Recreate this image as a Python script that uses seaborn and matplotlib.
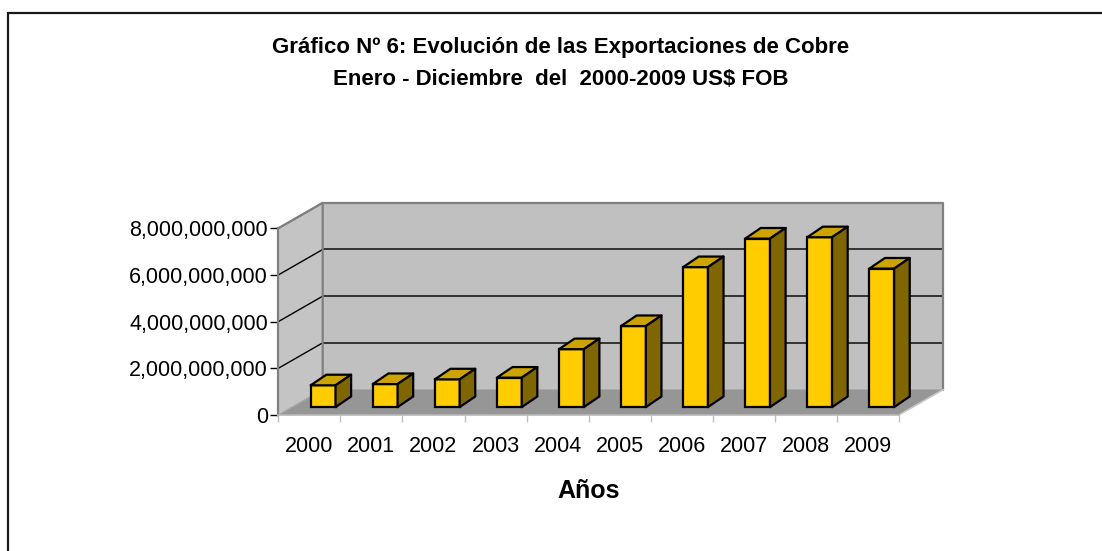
import numpy as np
import pandas as pd
import matplotlib
matplotlib.use("Agg")
import matplotlib.pyplot as plt
from matplotlib.patches import Polygon, Rectangle
from matplotlib.ticker import StrMethodFormatter
import seaborn as sns

# ---------------- data ----------------
years = ["2000", "2001", "2002", "2003", "2004", "2005", "2006", "2007", "2008", "2009"]
exports_usd = [933e6, 986e6, 1187e6, 1261e6, 2481e6, 3472e6, 5996e6, 7220e6, 7277e6, 5935e6]
y_ticks = [0, 2e9, 4e9, 6e9, 8e9]
title_line1 = "Gráfico Nº 6: Evolución de las Exportaciones de Cobre"
title_line2 = "Enero - Diciembre  del  2000-2009 US$ FOB"
x_title = "Años"

df = pd.DataFrame({"year": years, "value": exports_usd})

# ---------------- style ----------------
sns.set_style("white")
plt.rcParams["font.family"] = ["Liberation Sans", "DejaVu Sans"]
plt.rcParams["text.color"] = "black"
plt.rcParams["xtick.color"] = "black"
plt.rcParams["ytick.color"] = "black"
plt.rcParams["xtick.labelcolor"] = "black"
plt.rcParams["ytick.labelcolor"] = "black"

W, H = 1102, 551
fig = plt.figure(figsize=(W / 100, H / 100), dpi=100)

# front plane of the 3D box, in pixels
px_left, px_right = 278.3, 899.0
px_zero, px_top = 415.0, 228.3
ax = fig.add_axes([px_left / W, (H - px_zero) / H,
                   (px_right - px_left) / W, (px_zero - px_top) / H])
ax.patch.set_visible(False)

YMAX = 8e9
n = len(years)
px_per_cat = (px_right - px_left) / n
px_per_val = (px_zero - px_top) / YMAX

# depth of the box (pixels -> data)
DX = 44.4 / px_per_cat
DY = 25.5 / px_per_val
# bar placement in depth
f_front = 0.31
bdx = 15.6 / px_per_cat
bdy = 10.6 / px_per_val

FRONT = "#FFCC00"
TOP = "#CCA300"
SIDE = "#806600"

sns.barplot(data=df, x="year", y="value", ax=ax, color=FRONT, saturation=1,
            width=0.4, edgecolor="black", linewidth=1.6, zorder=4)

ax.set_xlim(-0.5, n - 0.5)
ax.set_ylim(0, YMAX)

x0, x1 = -0.5, n - 0.5
# walls and floor
back = Polygon([(x0 + DX, DY), (x1 + DX, DY), (x1 + DX, YMAX + DY), (x0 + DX, YMAX + DY)],
               closed=True, facecolor="#C0C0C0", edgecolor="none", clip_on=False, zorder=0)
left = Polygon([(x0, 0), (x0 + DX, DY), (x0 + DX, YMAX + DY), (x0, YMAX)],
               closed=True, facecolor="#C4C4C4", edgecolor="none", clip_on=False, zorder=0)
floor = Polygon([(x0, 0), (x1, 0), (x1 + DX, DY), (x0 + DX, DY)],
                closed=True, facecolor="#969696", edgecolor="none", clip_on=False, zorder=0.5)
for p in (back, left, floor):
    ax.add_patch(p)

# gridlines on back wall and left wall
for v in y_ticks[1:-1]:
    ax.plot([x0 + DX, x1 + DX], [v + DY, v + DY], color="#333333", lw=1.4,
            clip_on=False, zorder=1)
for v in y_ticks[1:]:
    ax.plot([x0, x0 + DX], [v, v + DY], color="black", lw=1.0, clip_on=False, zorder=1)

# box frame
ax.plot([x0 + DX, x1 + DX, x1 + DX], [YMAX + DY, YMAX + DY, DY], color="#808080",
        lw=1.6, clip_on=False, zorder=1.2)
ax.plot([x0, x0 + DX, x0 + DX], [YMAX, YMAX + DY, DY], color="#808080",
        lw=1.6, clip_on=False, zorder=1.2)
ax.plot([x0, x0 + DX], [0, DY], color="#A8A8A8", lw=1.0, clip_on=False, zorder=1.2)
ax.plot([x1, x1 + DX], [0, DY], color="#C8C8C8", lw=1.2, clip_on=False, zorder=1.2)

# shift bars into depth and add top / side faces
offx, offy = f_front * DX, f_front * DY
bars = [p for p in ax.patches if isinstance(p, Rectangle)]
for p in bars:
    xl = p.get_x() + offx
    w = p.get_width()
    h = p.get_height()
    p.set_x(xl)
    p.set_y(offy)
    xr = xl + w
    yb, yt = offy, offy + h
    top = Polygon([(xl, yt), (xr, yt), (xr + bdx, yt + bdy), (xl + bdx, yt + bdy)],
                  closed=True, facecolor=TOP, edgecolor="black", lw=1.6,
                  joinstyle="round", clip_on=False, zorder=4)
    side = Polygon([(xr, yb), (xr + bdx, yb + bdy), (xr + bdx, yt + bdy), (xr, yt)],
                   closed=True, facecolor=SIDE, edgecolor="black", lw=1.6,
                   joinstyle="round", clip_on=False, zorder=4)
    ax.add_patch(top)
    ax.add_patch(side)

# axes, ticks, labels
for s in ("top", "right"):
    ax.spines[s].set_visible(False)
ax.spines["left"].set_color("#808080")
ax.spines["left"].set_linewidth(1.6)
ax.spines["left"].set_zorder(2)
ax.spines["bottom"].set_color("#B8B8B8")
ax.spines["bottom"].set_linewidth(1.2)
ax.spines["bottom"].set_zorder(2)

ax.set_yticks(y_ticks)
ax.yaxis.set_major_formatter(StrMethodFormatter("{x:,.0f}"))
ax.tick_params(axis="y", direction="out", length=6, width=1.0, color="black",
               labelsize=15.5, pad=1.5, left=True, labelcolor="black")
ax.set_xticks(range(n))
ax.set_xticklabels(years)
ax.set_xticks(np.arange(-0.5, n, 1.0), minor=True)
ax.tick_params(axis="x", which="major", length=0, labelsize=15.5, pad=15,
               labelcolor="black")
ax.tick_params(axis="x", which="minor", direction="out", length=5, width=1.0,
               color="#C0C0C0", bottom=True)
ax.set_xlabel("")
ax.set_ylabel("")

# titles
cx = 561 / W
fig.text(cx, 1 - 53 / H, title_line1, ha="center", va="baseline",
         fontsize=16, fontweight="bold", color="black")
fig.text(cx, 1 - 85 / H, title_line2, ha="center", va="baseline",
         fontsize=16, fontweight="bold", color="black")
fig.text(589 / W, 1 - 498 / H, x_title, ha="center", va="baseline",
         fontsize=18, fontweight="bold", color="black")

# chart border (extends beyond the image on the right and bottom)
border = Rectangle((8 / W, -0.2), 1.5, 1 - 12.5 / H + 0.2, transform=fig.transFigure,
                   fill=False, edgecolor="#1a1a1a", lw=1.6, zorder=10)
fig.patches.append(border)

fig.savefig("out.png", dpi=100)
